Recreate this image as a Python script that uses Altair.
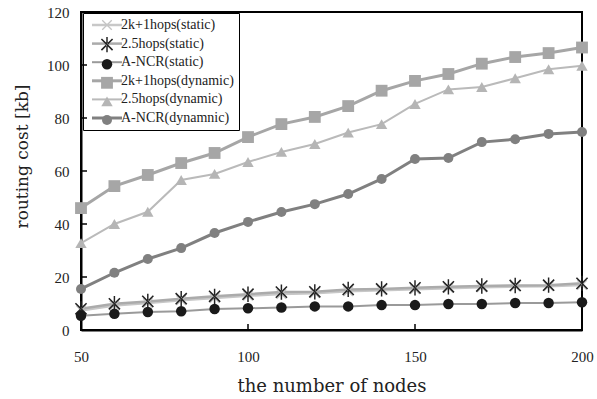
import altair as alt
import pandas as pd

nodes = [50, 60, 70, 80, 90, 100, 110, 120, 130, 140, 150, 160, 170, 180, 190, 200]

k2_static = [7.4, 9.2, 10.2, 11.2, 12.1, 12.9, 13.6, 13.9, 14.6, 15.0, 15.4, 15.8, 16.1, 16.4, 16.5, 17.0]
h25_static = [8.0, 9.9, 10.8, 11.8, 12.7, 13.5, 14.3, 14.4, 15.3, 15.5, 15.9, 16.3, 16.6, 16.8, 16.9, 17.6]
ncr_static = [5.4, 6.1, 6.8, 7.1, 7.9, 8.2, 8.5, 8.9, 8.9, 9.4, 9.4, 9.8, 9.8, 10.2, 10.2, 10.5]
k2_dynamic = [46.0, 54.3, 58.5, 63.0, 66.8, 72.8, 77.7, 80.4, 84.5, 90.3, 94.0, 96.6, 100.5, 103.0, 104.5, 106.6]
h25_dynamic = [32.8, 40.0, 44.6, 56.6, 58.9, 63.4, 67.2, 70.2, 74.5, 77.7, 85.3, 90.8, 91.7, 95.0, 98.4, 99.7]
ncr_dynamic = [15.5, 21.6, 26.8, 30.9, 36.6, 40.8, 44.5, 47.5, 51.3, 57.0, 64.5, 64.9, 70.9, 72.0, 74.0, 74.7]

series_names = ["2k+1hops(static)", "2.5hops(static)", "A-NCR(static)",
                "2k+1hops(dynamic)", "2.5hops(dynamic)", "A-NCR(dynamnic)"]
marker_keys = ["m1", "m2", "m3", "m4", "m5", "m6"]
all_values = [k2_static, h25_static, ncr_static, k2_dynamic, h25_dynamic, ncr_dynamic]

x_tick_values = [50, 100, 150, 200]
y_tick_values = [0, 20, 40, 60, 80, 100, 120]
y_inner_ticks = [20, 40, 60, 80, 100]
x_inner_ticks = [100, 150]

line_colors = ["#c8c8c8", "#ababab", "#9a9a9a", "#a6a6a6", "#bababa", "#808080"]
line_widths = [2.5, 2.5, 2.0, 3.0, 2.0, 3.0]
marker_colors = ["#c4c4c4", "#222222", "#1a1a1a", "#a6a6a6", "#b5b5b5", "#808080"]
# x-cross and asterisk drawn as thin filled polygons so every marker is fill-only
XCROSS = "M-1,-0.82L-0.82,-1L1,0.82L0.82,1Z M-1,0.82L-0.82,1L1,-0.82L0.82,-1Z"
ASTERISK = XCROSS + " M-0.12,-1.25L0.12,-1.25L0.12,1.25L-0.12,1.25Z"
marker_shapes = [XCROSS, ASTERISK, "circle", "square", "triangle-up", "circle"]
marker_sizes = [110, 150, 110, 140, 130, 100]

rows = []
for name, key, vals in zip(series_names, marker_keys, all_values):
    for n, v in zip(nodes, vals):
        rows.append({"nodes": n, "value": v, "series": name, "mkey": key})
df = pd.DataFrame(rows)

TICK_FONT = "Liberation Serif"
TITLE_FONT = "DejaVu Serif"

x_enc = alt.X("nodes:Q",
              scale=alt.Scale(domain=[50, 200], nice=False, zero=False),
              axis=alt.Axis(values=x_tick_values, title="the number of nodes",
                            labelFont=TICK_FONT, labelFontSize=15, labelPadding=19,
                            labelFlush=False,
                            labelColor="#222222", ticks=False, grid=False,
                            domainColor="black", domainWidth=2,
                            titleFont=TITLE_FONT, titleFontSize=18, titleFontWeight="normal",
                            titleColor="#222222", titleY=56, titleBaseline="middle"))
y_enc = alt.Y("value:Q",
              scale=alt.Scale(domain=[0, 120], nice=False),
              axis=alt.Axis(values=y_tick_values, title="routing cost [kb]",
                            labelFont=TICK_FONT, labelFontSize=15, labelPadding=12,
                            labelColor="#222222", ticks=False, grid=False,
                            domainColor="black", domainWidth=2,
                            titleFont=TITLE_FONT, titleFontSize=17, titleFontWeight="normal",
                            titleColor="#222222", titleX=-59, titleY=144,
                            titleAngle=-90, titleBaseline="middle", titleAlign="center"))

legend_common = dict(orient="none", legendY=1, title=None, padding=5,
                     symbolSize=100, labelFont=TICK_FONT, labelFontSize=14,
                     labelColor="#222222", rowPadding=4.6)

lines = alt.Chart(df).mark_line().encode(
    x=x_enc, y=y_enc,
    stroke=alt.Stroke("series:N",
                      scale=alt.Scale(domain=series_names, range=line_colors),
                      legend=alt.Legend(legendX=2, symbolType="M-0.6,0H5.4",
                                        symbolStrokeWidth=2.5, labelOffset=19,
                                        strokeColor="black", zindex=0, **legend_common)),
    strokeWidth=alt.StrokeWidth("series:N",
                                scale=alt.Scale(type="ordinal", domain=series_names, range=line_widths),
                                legend=None),
    order="nodes:Q",
)

marker_legend = alt.Legend(legendX=14, labelExpr="''", symbolStrokeWidth=0,
                           zindex=1, **legend_common)

points = alt.Chart(df).mark_point(filled=True, opacity=1).encode(
    x="nodes:Q", y="value:Q",
    color=alt.Color("mkey:N", scale=alt.Scale(domain=marker_keys, range=marker_colors),
                    legend=marker_legend),
    shape=alt.Shape("mkey:N", scale=alt.Scale(domain=marker_keys, range=marker_shapes),
                    legend=marker_legend),
    size=alt.Size("mkey:N", scale=alt.Scale(type="ordinal", domain=marker_keys, range=marker_sizes),
                  legend=None),
)

y_ticks = alt.Chart(pd.DataFrame({"v": y_inner_ticks})).mark_rule(
    color="black", strokeWidth=1.5).encode(
    y="v:Q", x=alt.value(0), x2=alt.value(6))
x_ticks = alt.Chart(pd.DataFrame({"v": x_inner_ticks})).mark_rule(
    color="black", strokeWidth=1.5).encode(
    x="v:Q", y=alt.value(318), y2=alt.value(312))

chart = alt.layer(y_ticks, x_ticks, lines, points).properties(
    width=501, height=318,
    padding={"left": 81, "top": 12, "right": 15, "bottom": 69},
    autosize=alt.AutoSizeParams(type="none"),
    background="white",
).configure_view(stroke="black", strokeWidth=2)

chart.save("out.html", embed_options={"renderer": "svg", "actions": False})
